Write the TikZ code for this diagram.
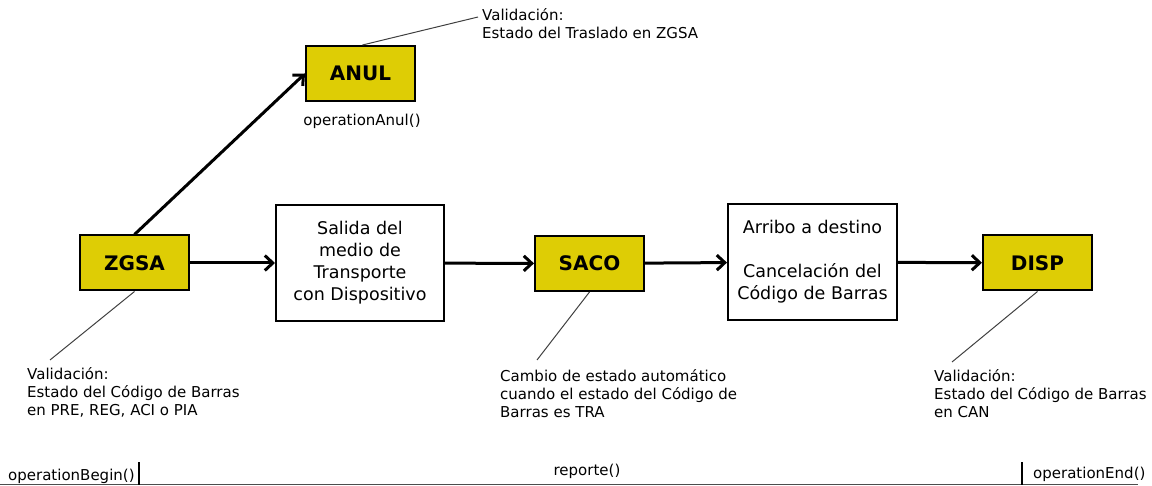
\documentclass[tikz,border=0pt]{standalone}
\usepackage{fontspec}
\setmainfont{DejaVu Sans}
\usetikzlibrary{arrows.meta}
\definecolor{estado}{RGB}{222,205,5}
\tikzset{>={Straight Barb[length=8pt,width=15pt]},
  estadobox/.style={draw, line width=2pt, fill=estado, minimum width=109pt,
    minimum height=55pt, inner sep=0pt,
    font=\fontsize{20}{24}\selectfont\bfseries},
  pasobox/.style={draw, line width=2pt, fill=white, minimum width=168pt,
    minimum height=116pt, inner sep=0pt, align=center,
    font=\fontsize{17.5}{22}\selectfont},
  flujo/.style={->, line width=3pt},
  nota/.style={align=left, anchor=north west, inner sep=0pt,
    font=\fontsize{15}{18}\selectfont},
  notalinea/.style={line width=1pt, black!75},
  metodo/.style={inner sep=0pt, font=\fontsize{15}{18}\selectfont}}

\begin{document}
\begin{tikzpicture}[x=1pt,y=-1pt]
  \useasboundingbox (0,0) rectangle (1152,486);
  % estados y pasos
  \node[estadobox] (zgsa) at (134.5,263) {ZGSA};
  \node[estadobox] (anul) at (360.5,73.5) {ANUL};
  \node[pasobox] (salida) at (360,263)
  {Salida del\\medio de\\Transporte\\con Dispositivo};
  \node[estadobox] (saco) at (589.5,263.5) {SACO};
  \node[pasobox, minimum width=169pt] (arribo) at (812.5,262)
  {Arribo a destino\\[22pt]Cancelación del\\Código de Barras};
  \node[estadobox] (disp) at (1037.5,263) {DISP};
  \node[metodo, anchor=base] (opanul) at (362,126) {operationAnul()};
  % flujo
  \draw[flujo] (zgsa.north) -- (anul.west);
  \draw[flujo] (zgsa) -- (salida);
  \draw[flujo] (salida) -- (saco);
  \draw[flujo] (saco) -- (arribo);
  \draw[flujo] (arribo) -- (disp);
  % notas
  \node[nota] (nanul) at (482,8.2)
  {Validación:\\Estado del Traslado en ZGSA};
  \node[nota] (nzgsa) at (27,367.5)
  {Validación:\\Estado del Código de Barras\\en PRE, REG, ACI o PIA};
  \node[nota] (nsaco) at (500,369.5)
  {Cambio de estado automático\\cuando el estado del Código de\\Barras es TRA};
  \node[nota] (ndisp) at (934,369.5)
  {Validación:\\Estado del Código de Barras\\en CAN};
  \coordinate (fanul) at (478,17);
  \coordinate (fzgsa) at (50,360);
  \coordinate (fsaco) at (537,360);
  \coordinate (fdisp) at (952,362);
  \draw[notalinea] ([xshift=2pt]anul.north) -- (fanul);
  \draw[notalinea] (zgsa.south) -- (fzgsa);
  \draw[notalinea] (saco.south) -- (fsaco);
  \draw[notalinea] (disp.south) -- (fdisp);
  % eje de operaciones
  \coordinate (ejeini) at (0,484.5);
  \coordinate (ejefin) at (1138,484.5);
  \coordinate (marcaini) at (139,462);
  \coordinate (marcafin) at (1022,462);
  \draw[line width=1.5pt, black!70] (ejeini) -- (ejefin);
  \draw[line width=2pt] (marcaini) -- ++(0,23);
  \draw[line width=2pt] (marcafin) -- ++(0,23);
  \node[metodo, anchor=base west] (opini) at (8,480) {operationBegin()};
  \node[metodo, anchor=base] (reporte) at (587,475) {reporte()};
  \node[metodo, anchor=base west] (opfin) at (1033,478) {operationEnd()};
\end{tikzpicture}
\end{document}
